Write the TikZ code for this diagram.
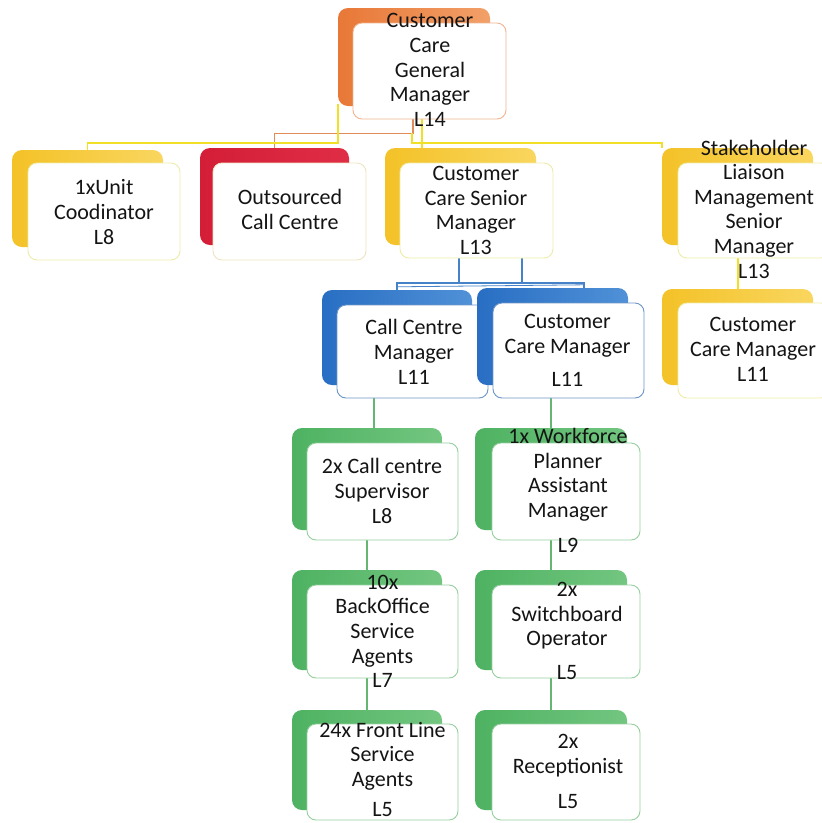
\documentclass[tikz,border=0pt]{standalone}
\usepackage{fontspec}
\setmainfont{Carlito}
\usetikzlibrary{fit,calc,backgrounds}
\definecolor{txt}{RGB}{20,20,20}
\definecolor{orgB}{RGB}{232,120,55}\definecolor{orgL}{RGB}{242,160,105}\definecolor{orgF}{RGB}{240,180,145}\definecolor{orgW}{RGB}{226,140,90}
\definecolor{yelB}{RGB}{244,194,40}\definecolor{yelL}{RGB}{249,214,95}\definecolor{yelF}{RGB}{238,236,170}\definecolor{yelW}{RGB}{240,224,40}
\definecolor{redB}{RGB}{212,30,56}\definecolor{redL}{RGB}{224,45,70}\definecolor{redF}{RGB}{238,228,195}
\definecolor{bluB}{RGB}{40,110,195}\definecolor{bluL}{RGB}{80,145,215}\definecolor{bluF}{RGB}{110,150,200}\definecolor{bluW}{RGB}{70,130,200}
\definecolor{grnB}{RGB}{78,178,98}\definecolor{grnL}{RGB}{115,198,128}\definecolor{grnF}{RGB}{150,208,158}\definecolor{grnW}{RGB}{100,182,112}
\tikzset{
  backbox/.style={rounded corners=10pt, inner sep=0pt, draw=none, left color=#1B, right color=#1L},
  frontbox/.style={rounded corners=9pt, inner sep=0pt, fill=white, draw=#1F, line width=0.9pt},
  lbl/.style={font=\fontsize{22}{24.6}\selectfont, align=center, text=txt, inner sep=0pt,
    execute at begin node=\strut, execute at end node=\strut},
  wire/.style={draw=#1, line width=1.5pt}
}
\newcommand\unitbox[6]{%
  \node[backbox=#2, fit={#3}] (#1b) {};
  \node[frontbox=#2, fit={#4}] (#1f) {};
  \node[lbl] (#1t) at #5 {#6};
}
\begin{document}
\begin{tikzpicture}[x=1pt,y=-1pt]
\useasboundingbox (0,0) rectangle (822,823);

\unitbox{gm}{org}{(338,8) (490,106)}{(353,23) (506,119)}{(430,73.6)}{Customer\\Care\\General\\Manager\\L14}
\unitbox{unit}{yel}{(12,150) (163,247)}{(28,163) (180,260)}{(104,215.6)}{1xUnit\\Coodinator\\L8}
\unitbox{out}{red}{(200,148) (349,245)}{(213,163) (366,260)}{(290,213.1)}{Outsourced\\Call Centre}
\unitbox{ccsm}{yel}{(385,148) (536,245)}{(400,163) (553,258)}{(476,214.1)}{Customer\\Care Senior\\Manager\\L13}
\unitbox{stk}{yel}{(662,148) (813,245)}{(678,163) (830,258)}{(754,212.6)}{Stakeholder\\Liaison\\Management\\Senior\\Manager\\L13}
\unitbox{ccma}{blu}{(322,290) (472,385)}{(337,305) (488,398)}{(414,355.6)}{Call Centre\\Manager\\L11}
\unitbox{ccmb}{blu}{(477,288) (628,385)}{(493,303) (644,398)}{(567.5,354.1)}{Customer\\Care Manager\\[8.4pt]L11}
\unitbox{sccm}{yel}{(662,289) (813,385)}{(678,303) (830,398)}{(753,353.1)}{Customer\\Care Manager\\L11}
\unitbox{sup}{grn}{(292,428) (442,530)}{(307,443) (458,540)}{(382,494.6)}{2x Call centre\\Supervisor\\L8}
\unitbox{wf}{grn}{(475,428) (627,530)}{(492,443) (640,540)}{(568,494.1)}{1x Workforce\\Planner\\Assistant\\Manager\\[10.4pt]L9}
\unitbox{bo}{grn}{(292,570) (442,670)}{(307,585) (458,678)}{(382.5,635.1)}{10x\\BackOffice\\Service\\Agents\\L7}
\unitbox{sw}{grn}{(475,570) (627,670)}{(492,585) (640,678)}{(567,634.6)}{2x\\Switchboard\\Operator\\[9.4pt]L5}
\unitbox{fl}{grn}{(292,710) (442,810)}{(307,724) (458,820)}{(382.5,773.1)}{24x Front Line\\Service\\Agents\\[5.4pt]L5}
\unitbox{rec}{grn}{(475,710) (627,810)}{(492,724) (640,820)}{(568,775.1)}{2x\\Receptionist\\[10.4pt]L5}

\begin{scope}[on background layer]
  \fill[white] (0,0) rectangle (822,823);
  % top level
  \coordinate (oa) at ($(gmf.south)+(-16.5,0)$);
  \draw[wire=orgW] (oa) -- ++(0,14) -| (outb.north);
  \coordinate (yl) at ($(gmb.south west)+(0,-2)$);
  \draw[wire=yelW] (yl) |- (unitb.north |- 0,143) -- (unitb.north);
  \coordinate (ya) at ($(gmf.south)+(-7.5,0)$);
  \draw[wire=yelW] (ya) -- (ya |- ccsmb.north);
  \coordinate (yb) at ($(gmf.south)+(-17.5,14)$);
  \draw[wire=yelW] (yb) |- ($(stkb.north west)+(0,-5)$) -- (stkb.north west);
  \coordinate (yc) at ($(stkf.south)+(-16,0)$);
  \draw[wire=yelW] (yc) -- (yc |- sccmb.north);
  % blue
  \coordinate (b1) at ($(ccsmf.south)+(-17.5,0)$);
  \coordinate (b2) at ($(ccsmf.south)+(45.5,0)$);
  \coordinate (b3) at ($(ccmbb.north)+(31.5,0)$);
  \draw[wire=bluW] (b1) -- ++(0,25);
  \draw[wire=bluW] (b2) -- ++(0,25);
  \draw[wire=bluW] (ccmab.north) -- ++(0,-7) -| (b3);
  \draw[wire=bluW, line width=0.8pt] ($(ccmab.north)+(0,-3)$) -- ($(b3)+(0,-3)$);
  % green
  \coordinate (g1) at ($(supb.north)+(7,0)$);
  \draw[wire=grnW] (g1 |- ccmaf.south) -- (g1);
  \draw[wire=grnW] (wfb.north |- ccmbf.south) -- (wfb.north);
  \draw[wire=grnW] (bob.north |- supf.south) -- (bob.north);
  \draw[wire=grnW] (flb.north |- bof.south) -- (flb.north);
  \draw[wire=grnW] (swb.north |- wff.south) -- (swb.north);
  \draw[wire=grnW] (recb.north |- swf.south) -- (recb.north);
\end{scope}
\end{tikzpicture}
\end{document}
